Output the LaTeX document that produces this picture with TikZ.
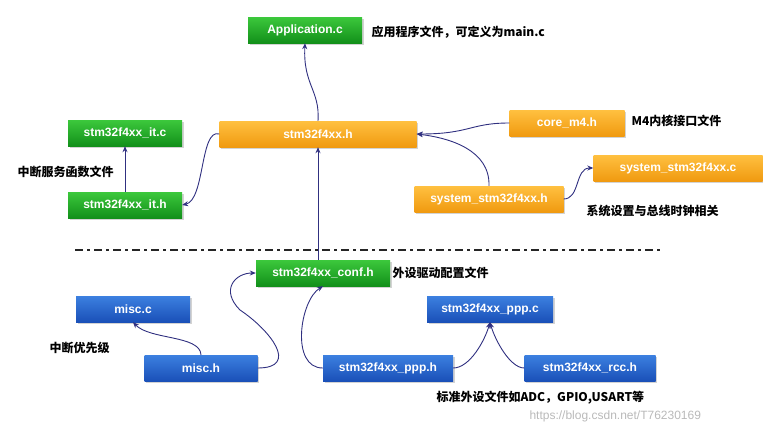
\documentclass[tikz,border=0pt]{standalone}
\usepackage{fontspec}
\setmainfont{Liberation Serif}
\newfontfamily\boxfont{Liberation Sans}
\newfontfamily\cjk{Noto Sans CJK SC}
\usetikzlibrary{arrows.meta,shadows}
\definecolor{gtop}{HTML}{3CC83C}\definecolor{gbot}{HTML}{12901A}
\definecolor{otop}{HTML}{FFC040}\definecolor{obot}{HTML}{F09A10}
\definecolor{btop}{HTML}{3C80E0}\definecolor{bbot}{HTML}{1A50B8}
\definecolor{arr}{HTML}{303080}
\tikzset{
 box/.style={draw=none,minimum height=26pt,text=white,font=\boxfont\bfseries\fontsize{12}{12}\selectfont,drop shadow={shadow xshift=1.5pt,shadow yshift=-1.5pt,opacity=0.35}},
 gbox/.style={box,top color=gtop,bottom color=gbot},
 obox/.style={box,top color=otop,bottom color=obot},
 bbox/.style={box,top color=btop,bottom color=bbot},
 lab/.style={anchor=west,font=\cjk\bfseries\fontsize{12}{12}\selectfont},
 ar/.style={draw=arr,line width=0.9pt,-{Stealth[length=6pt,width=5pt]}}
}
\begin{document}
\begin{tikzpicture}[x=1pt,y=-1pt]
\useasboundingbox (0,0) rectangle (763,437);
\node[gbox,minimum width=114pt] (app) at (305,30) {Application.c};
\node[obox,minimum width=197pt] (h) at (318,134) {stm32f4xx.h};
\node[obox,minimum width=115pt] (core) at (567,123) {core\_m4.h};
\node[gbox,minimum width=114pt] (itc) at (125,133) {stm32f4xx\_it.c};
\node[gbox,minimum width=114pt] (ith) at (125,205) {stm32f4xx\_it.h};
\node[obox,minimum width=169pt] (sysc) at (678,168) {system\_stm32f4xx.c};
\node[obox,minimum width=149pt] (sysh) at (489,199) {system\_stm32f4xx.h};
\node[gbox,minimum width=134pt] (conf) at (323,273) {stm32f4xx\_conf.h};
\node[bbox,minimum width=114pt] (miscc) at (133,309) {misc.c};
\node[bbox,minimum width=113pt] (misch) at (201,368) {misc.h};
\node[bbox,minimum width=126pt] (pppc) at (490,309) {stm32f4xx\_ppp.c};
\node[bbox,minimum width=130pt] (ppph) at (388,368) {stm32f4xx\_ppp.h};
\node[bbox,minimum width=131pt] (rcc) at (590,368) {stm32f4xx\_rcc.h};

\node[lab] (l1) at (368,32) {应用程序文件，可定义为main.c};
\node[lab] (l2) at (628,121) {M4内核接口文件};
\node[lab] (l3) at (14,172) {中断服务函数文件};
\node[lab] (l4) at (583,211) {系统设置与总线时钟相关};
\node[lab] (l5) at (389,273) {外设驱动配置文件};
\node[lab] (l6) at (46,348) {中断优先级};
\node[lab] (l7) at (433,398) {标准外设文件如ADC，GPIO,USART等};
\node[anchor=west,text=gray!55,font=\boxfont\fontsize{12}{12}\selectfont] (wm) at (526,416) {https://blog.csdn.net/T76230169};

\coordinate (d1) at (75,250); \coordinate (d2) at (662,250);
\draw[line width=2pt,dash pattern=on 8pt off 4pt on 3pt off 4pt,black!85] (d1) -- (d2);

\draw[ar] (h.north) .. controls (320,90) and (303,85) .. (app.south);
\draw[ar] (core.west) .. controls (470,123) and (470,134) .. (h.east);
\draw[ar] (sysh.north) .. controls (490,150) and (450,138) .. (h.east);
\draw[ar] (sysh.east) .. controls (580,199) and (575,168) .. (sysc.west);
\draw[ar] (h.west) .. controls (200,128) and (205,200) .. (ith.east);
\draw[ar] (ith.north) -- (itc.south);
\draw[ar] (conf.north -| h.south) -- (h.south);
\draw[ar] (misch.north) .. controls (200,335) and (150,340) .. (miscc.south);
\draw[ar] (misch.east) .. controls (300,368) and (270,330) .. (240,310) .. controls (220,290) and (235,273) .. (conf.west);
\draw[ar] (ppph.west) .. controls (290,368) and (300,300) .. (conf.south);
\draw[ar] (ppph.east) .. controls (470,368) and (485,340) .. (pppc.south);
\draw[ar] (rcc.west) .. controls (510,368) and (495,340) .. (pppc.south);
\end{tikzpicture}
\end{document}
